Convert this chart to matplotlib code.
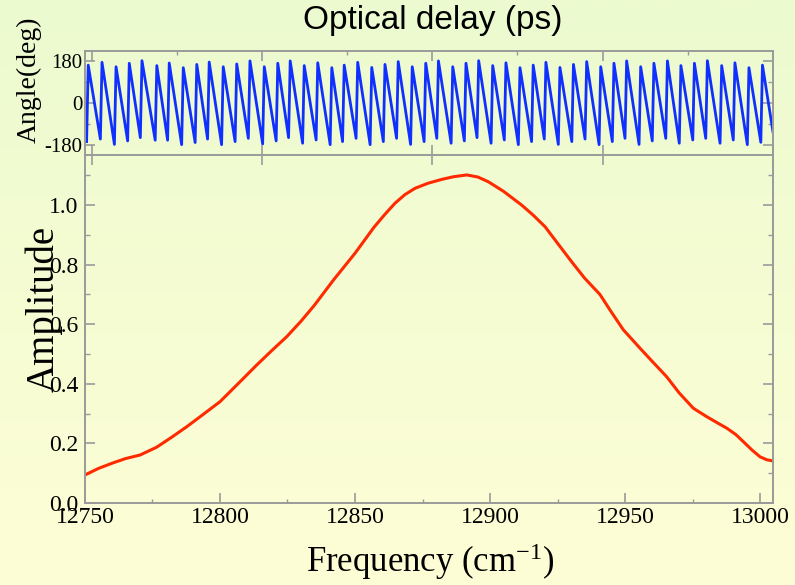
#
# 位相とスペクトル振幅のプロット
#
import matplotlib
matplotlib.use('Agg')
import matplotlib.pyplot as plt
from matplotlib.ticker import MultipleLocator
from matplotlib.colors import LinearSegmentedColormap
import numpy as np

plt.rcParams['axes.unicode_minus'] = False
plt.rcParams['mathtext.fontset'] = 'custom'
plt.rcParams['mathtext.rm'] = 'Liberation Serif'
plt.rcParams['mathtext.it'] = 'Liberation Serif:italic'
plt.rcParams['font.family'] = ['Liberation Serif', 'DejaVu Serif']

#
# スペクトル振幅 (周波数 cm-1, 振幅)
#
amp_freq = [12750.0, 12755.0, 12760.5, 12765.0, 12770.4, 12776.5, 12782.0, 12787.7,
            12793.0, 12800.0, 12806.0, 12813.6, 12819.0, 12824.7, 12830.0, 12835.0,
            12842.0, 12850.0, 12857.0, 12861.0, 12864.8, 12868.5, 12872.2, 12877.0,
            12882.1, 12886.5, 12891.4, 12895.5, 12899.4, 12905.0, 12911.7, 12916.0,
            12920.4, 12925.0, 12930.2, 12935.0, 12940.7, 12945.0, 12949.4, 12955.6,
            12960.0, 12965.4, 12970.0, 12975.3, 12980.2, 12984.0, 12987.7, 12991.0,
            12993.8, 12997.0, 13000.0, 13002.5, 13004.8]
amp_val = [0.094, 0.116, 0.135, 0.149, 0.161, 0.187, 0.220, 0.256,
           0.292, 0.340, 0.394, 0.463, 0.510, 0.558, 0.610, 0.664,
           0.748, 0.838, 0.925, 0.968, 1.006, 1.035, 1.056, 1.073,
           1.086, 1.095, 1.101, 1.094, 1.078, 1.046, 1.000, 0.966,
           0.927, 0.872, 0.810, 0.755, 0.700, 0.640, 0.581, 0.519,
           0.476, 0.424, 0.370, 0.318, 0.290, 0.270, 0.251, 0.230,
           0.206, 0.178, 0.155, 0.145, 0.141]

#
# 位相 : 折り返し直前 (下端) と直後 (上端) の周波数と角度
#
wrap_lo = [12750.6, 12755.7, 12760.9, 12765.8, 12770.5, 12776.0, 12780.6, 12785.8,
           12790.8, 12795.4, 12800.6, 12805.6, 12810.5, 12815.8, 12820.8, 12825.4,
           12830.6, 12835.6, 12840.8, 12845.4, 12850.4, 12855.6, 12860.5, 12865.4,
           12870.6, 12875.6, 12880.3, 12885.6, 12890.5, 12895.2, 12900.4, 12905.3,
           12910.5, 12915.4, 12920.1, 12925.3, 12930.3, 12935.2, 12940.4, 12945.3,
           12950.0, 12955.2, 12960.1, 12965.1, 12970.1, 12975.1, 12979.9, 12985.2,
           12990.1, 12995.3, 13000.3]
wrap_hi = [12751.2, 12756.3, 12761.5, 12766.4, 12771.1, 12776.6, 12781.2, 12786.4,
           12791.4, 12796.0, 12801.2, 12806.2, 12811.1, 12816.4, 12821.4, 12826.0,
           12831.2, 12836.2, 12841.4, 12846.0, 12851.0, 12856.2, 12861.1, 12866.0,
           12871.2, 12876.2, 12880.9, 12886.2, 12891.1, 12895.8, 12901.0, 12905.9,
           12911.1, 12916.0, 12920.7, 12925.9, 12930.9, 12935.8, 12941.0, 12945.9,
           12950.6, 12955.8, 12960.7, 12965.7, 12970.7, 12975.7, 12980.5, 12985.8,
           12990.7, 12995.9, 13000.9]
phase_bot = [-167, -156, -179, -164, -150, -161, -161, -180, -171, -156, -180, -167, -153,
             -177, -164, -150, -174, -160, -180, -167, -153, -180, -167, -153, -179, -167,
             -153, -174, -164, -150, -174, -160, -180, -167, -156, -179, -167, -156, -180,
             -167, -153, -179, -164, -153, -174, -160, -153, -174, -160, -180, -170]
phase_top = [161, 173, 154, 169, 180, 159, 170, 150, 164, 174, 154, 166, 179,
             154, 169, 179, 159, 171, 150, 161, 173, 151, 164, 176, 154, 169,
             179, 154, 169, 180, 159, 171, 150, 161, 173, 151, 164, 176, 154,
             169, 179, 154, 169, 179, 159, 169, 180, 159, 171, 150, 161]
phase_end_freq = 13004.8
phase_end_deg = -125

# 上端の遅延時間軸 (目盛りのみ)
delay_ticks = [0, 1, 2, 3, 4]

phase_f = np.append(np.column_stack([wrap_lo, wrap_hi]).ravel(), phase_end_freq)
phase_d = np.append(np.column_stack([phase_bot, phase_top]).ravel(), phase_end_deg)

#
# 図の作成
#
fig = plt.figure(figsize=(7.95, 5.85), dpi=100)

# 背景のグラデーション
bg = fig.add_axes([0, 0, 1, 1], zorder=-10)
cmap = LinearSegmentedColormap.from_list('bg', ['#ecfacf', '#fefed6'])
bg.imshow(np.linspace(0, 1, 256).reshape(-1, 1), aspect='auto', cmap=cmap,
          extent=[0, 1, 0, 1])
bg.axis('off')

gray = '#9a9a9a'
xlim = (12750, 13004.8)
dlim = (-0.039, 4.0)

ax_p = fig.add_axes([0.1069, 0.7356, 0.8654, 0.1778])
ax = fig.add_axes([0.1069, 0.1402, 0.8654, 0.5954])

for a in (ax_p, ax):
    a.set_facecolor('none')
    for s in a.spines.values():
        s.set_color(gray)
        s.set_linewidth(1.4)

#
# 位相
#
ax_p.plot(phase_f, phase_d, color='#1030ff', lw=2.0)
ax_p.set_xlim(xlim)
ax_p.set_ylim(-223, 223)
ax_p.set_xticks([])
ax_p.set_yticks([-180, 0, 180])
ax_p.yaxis.set_minor_locator(MultipleLocator(90))
ax_p.tick_params(axis='y', which='major', direction='in', length=7, width=1.2,
                 color=gray, labelsize=15, pad=2, left=True, right=True)
ax_p.tick_params(axis='y', which='minor', direction='in', length=3.5, width=1.0,
                 color=gray, left=True, right=True)

ax_pt = ax_p.twiny()
ax_pt.set_xlim(dlim)
ax_pt.set_xticks(delay_ticks)
ax_pt.xaxis.set_minor_locator(MultipleLocator(0.5))
ax_pt.tick_params(axis='x', which='major', direction='in', length=7, width=1.2,
                  color=gray, top=True, bottom=True, labeltop=False, labelbottom=False)
ax_pt.tick_params(axis='x', which='minor', direction='in', length=3, width=1.0,
                  color=gray, top=True, bottom=False)
for s in ax_pt.spines.values():
    s.set_visible(False)

#
# 振幅
#
ax.plot(amp_freq, amp_val, color='#ff2a00', lw=2.2)
ax.set_xlim(xlim)
ax.set_ylim(0, 1.169)
ax.xaxis.set_major_locator(MultipleLocator(50))
ax.xaxis.set_minor_locator(MultipleLocator(25))
ax.yaxis.set_major_locator(MultipleLocator(0.2))
ax.yaxis.set_minor_locator(MultipleLocator(0.1))
ax.yaxis.set_major_formatter(matplotlib.ticker.FormatStrFormatter('%.1f'))
ax.spines['top'].set_visible(False)
ax.tick_params(axis='x', which='major', direction='in', length=7, width=1.2,
               color=gray, labelsize=17, pad=3, top=False)
ax.tick_params(axis='x', which='minor', direction='in', length=3, width=1.0,
               color=gray, top=False)
ax.tick_params(axis='y', which='major', direction='in', length=7, width=1.2,
               color=gray, labelsize=17, pad=5, left=True, right=True)
ax.tick_params(axis='y', which='minor', direction='in', length=3.5, width=1.0,
               color=gray, left=True, right=True)

ax_t = ax.twiny()
ax_t.set_xlim(dlim)
ax_t.set_xticks(delay_ticks)
ax_t.tick_params(axis='x', which='major', direction='in', length=7, width=1.2,
                 color=gray, top=True, bottom=False, labeltop=False)
for s in ax_t.spines.values():
    s.set_visible(False)

#
# 文字
#
W, H = 795.0, 585.0
fig.text(433 / W, 1 - 28.5 / H, 'Optical delay (ps)', family='Liberation Sans',
         fontsize=24, ha='center', va='baseline')
fig.text(430 / W, 1 - 572 / H, 'Frequency (cm$^{\\rm {-}1}$)', fontsize=25,
         ha='center', va='baseline')
fig.text(44 / W, 1 - 309 / H, 'Amplitude', fontsize=28, rotation=90,
         ha='center', va='center')
fig.text(29 / W, 1 - 80 / H, 'Angle(deg)', fontsize=20, rotation=90,
         ha='center', va='center')

fig.savefig('out.png', dpi=100)
